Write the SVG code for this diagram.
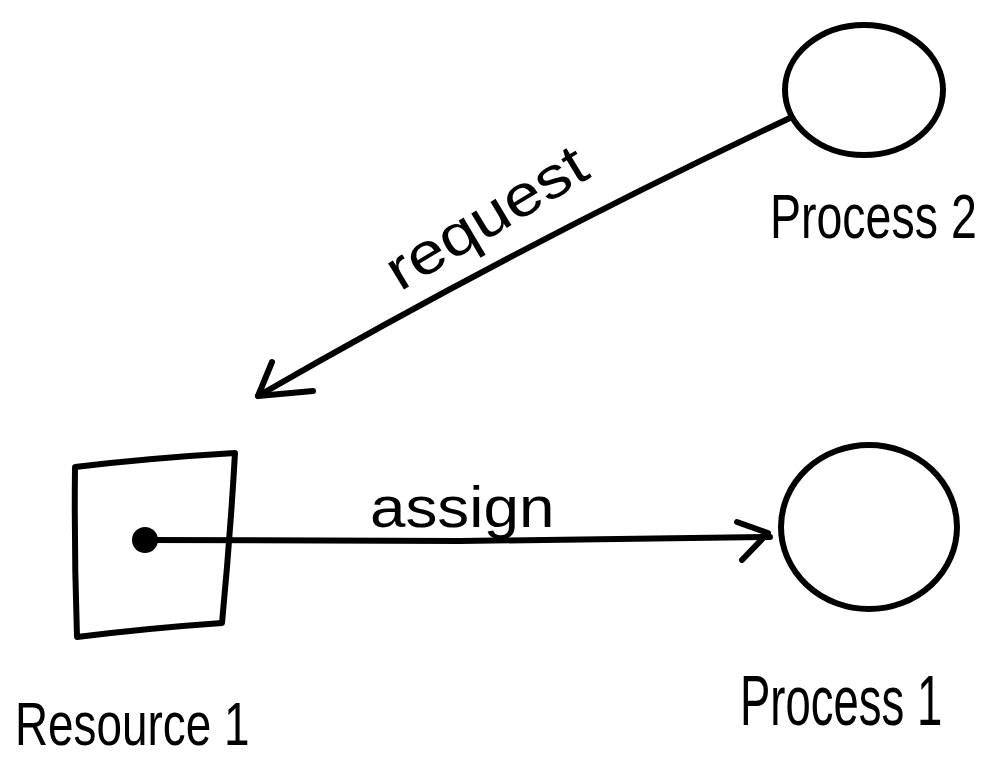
<svg xmlns="http://www.w3.org/2000/svg" width="993" height="764" viewBox="0 0 993 764">
<style>
.s{fill:none;stroke:#000;stroke-width:6;stroke-linecap:round;stroke-linejoin:round}
.t{font-family:"Liberation Sans","DejaVu Sans",sans-serif;fill:#000}
</style>
<rect width="993" height="764" fill="#fff"/>
<g id="process2">
<ellipse class="s" cx="864" cy="90" rx="79" ry="65"/>
<text class="t" font-size="62" transform="translate(770 238) scale(0.75 1)">Process 2</text>
</g>
<g id="resource1">
<path class="s" d="M75 467 Q150 458 235 453 Q230 540 222 623 Q150 628 77 637 Q74 550 75 467 Z"/>
<text class="t" font-size="62" transform="translate(15 745) scale(0.74 1)">Resource 1</text>
</g>
<g id="process1">
<ellipse class="s" cx="869" cy="527" rx="88" ry="82"/>
<text class="t" font-size="70" transform="translate(740 725) scale(0.65 1)">Process 1</text>
</g>
<g id="connectors">
<circle cx="145" cy="540" r="13" fill="#000"/>
<path class="s" d="M145 540 L460 541 L770 537"/>
<path class="s" d="M737 522 L768 533 L742 560"/>
<path class="s" d="M790 118 Q520 245 258 396"/>
<path class="s" d="M272 362 L258 396 L313 391"/>
<text class="t" font-size="58" transform="translate(400 292) rotate(-31) scale(1.16 1)">request</text>
<text class="t" font-size="58" transform="translate(370 527) scale(1.1 1)">assign</text>
</g>
</svg>
